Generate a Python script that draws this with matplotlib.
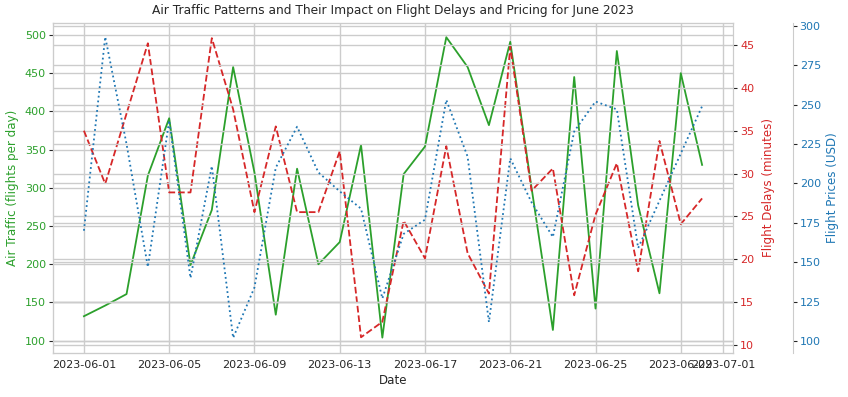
import numpy as np
import pandas as pd
import matplotlib
matplotlib.use("Agg")
import matplotlib.pyplot as plt
import matplotlib.dates as mdates

# June 2023 daily values
dates = pd.date_range("2023-06-01", periods=30, freq="D")
air_traffic = [132, 146, 161, 316, 391, 199, 271, 458, 320, 134,
               325, 200, 229, 356, 104, 318, 354, 497, 458, 382,
               491, 300, 114, 445, 142, 479, 277, 162, 450, 330]
flight_delays = [35.0, 28.8, 37.0, 45.2, 27.8, 27.8, 45.8, 37.5, 25.5, 35.5,
                 25.5, 25.5, 32.6, 10.9, 12.7, 24.5, 20.1, 33.2, 20.7, 16.0,
                 44.8, 28.0, 30.6, 15.8, 25.2, 31.2, 18.6, 33.8, 24.1, 27.1]
flight_prices = [170, 293, 225, 147, 240, 140, 211, 102, 134, 210,
                 236, 207, 195, 184, 127, 168, 177, 253, 217, 112,
                 216, 188, 166, 233, 252, 247, 159, 189, 219, 249]

# whitegrid-like look
plt.rcParams.update({
    "font.family": "DejaVu Sans",
    "axes.facecolor": "white",
    "axes.edgecolor": ".8",
    "axes.grid": True,
    "grid.color": ".8",
    "grid.linewidth": 1.0,
    "text.color": ".15",
    "axes.labelcolor": ".15",
    "xtick.color": ".15",
    "ytick.color": ".15",
})

c_traffic = "tab:green"
c_delay = "tab:red"
c_price = "tab:blue"

fig, ax1 = plt.subplots(figsize=(8.48, 3.97), dpi=100)
fig.subplots_adjust(left=0.0625, right=0.8644, top=0.9428, bottom=0.1116)

ax1.plot(dates, air_traffic, color=c_traffic, linestyle="-", linewidth=1.3)
ax1.set_xlabel("Date", fontsize=8.6, labelpad=3)
ax1.set_ylabel("Air Traffic (flights per day)", color=c_traffic, fontsize=8.6)
ax1.tick_params(axis="y", labelcolor=c_traffic, labelsize=8, length=3, pad=2)
ax1.tick_params(axis="x", labelsize=8, length=0, pad=5)
ax1.set_ylim(84.3, 516)

# second axis: delays
ax2 = ax1.twinx()
ax2.plot(dates, flight_delays, color=c_delay, linestyle="--", linewidth=1.3)
ax2.set_ylabel("Flight Delays (minutes)", color=c_delay, fontsize=8.6, labelpad=6)
ax2.tick_params(axis="y", labelcolor=c_delay, labelsize=8, length=3, pad=2)
ax2.set_ylim(9.1, 47.6)

# third axis: prices, spine pushed outward
ax3 = ax1.twinx()
ax3.spines["right"].set_position(("outward", 43))
ax3.plot(dates, flight_prices, color=c_price, linestyle=":", linewidth=1.3)
ax3.set_ylabel("Flight Prices (USD)", color=c_price, fontsize=8.6)
ax3.tick_params(axis="y", labelcolor=c_price, labelsize=8, length=3, pad=2)
ax3.set_ylim(92.6, 302)

ax1.xaxis.set_major_locator(mdates.DayLocator(bymonthday=range(1, 32, 4)))
ax1.xaxis.set_major_formatter(mdates.DateFormatter("%Y-%m-%d"))

ax1.set_title("Air Traffic Patterns and Their Impact on Flight Delays and Pricing for June 2023",
              fontsize=8.8)

fig.savefig("out.png", dpi=100)
